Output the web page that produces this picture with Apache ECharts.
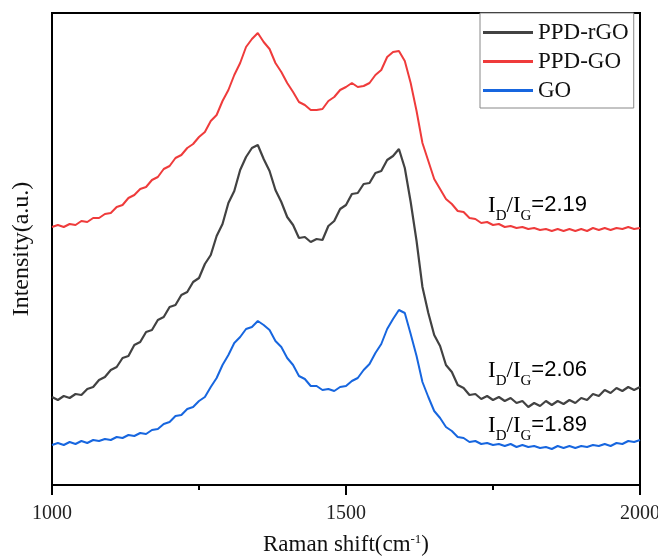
<!DOCTYPE html>
<html>
<head>
<meta charset="utf-8">
<script src="https://cdn.jsdelivr.net/npm/echarts@6/dist/echarts.min.js"></script>
<style>
html,body{margin:0;padding:0;background:#fff;}
#chart{width:658px;height:558px;}
</style>
</head>
<body>
<div id="chart"></div>
<script>
// Raman shift (cm-1), 10 cm-1 steps
var wavenumbers = [];
for (var w = 1000; w <= 2000; w += 10) wavenumbers.push(w);

var seriesNames = ['PPD-rGO', 'PPD-GO', 'GO'];
var xTicks = [1000, 1500, 2000];
var ratioLabels = ['2.19', '2.06', '1.89'];

var ppdGO = [260,262,260,263,262,266,265,269,269,273,
  274,280,282,289,292,298,300,307,310,318,
  321,329,332,339,343,350,355,366,372,386,
  397,412,424,440,448,454,445,438,424,415,
  404,395,385,382,377,377,378,386,390,397,
  400,404,400,401,404,412,417,430,435,436,
  426,404,376,344,326,308,298,288,283,276,
  275,269,268,264,265,262,263,260,261,259,
  260,258,259,257,258,256,258,256,258,256,
  258,256,259,257,259,257,259,258,260,258,259];

var ppdRGO = [90,87,91,89,93,92,98,100,107,110,
  117,120,129,131,142,145,155,157,167,170,
  180,182,192,195,205,209,223,232,251,263,
  284,296,317,330,339,342,328,316,297,285,
  270,262,249,250,245,248,247,261,266,278,
  282,293,294,303,304,314,316,327,331,338,
  319,285,246,200,174,152,141,122,115,102,
  99,92,93,88,91,87,90,86,89,84,
  86,80,84,81,86,82,86,83,87,84,
  89,87,93,91,97,94,99,96,100,97,100];

var go = [42,44,42,45,43,46,44,47,46,48,
  47,50,49,52,51,54,53,57,58,63,
  65,71,72,78,80,86,90,100,109,122,
  132,144,150,158,160,166,162,157,146,140,
  129,122,111,108,101,101,97,98,96,100,
  101,106,109,117,123,134,143,158,168,177,
  174,153,131,105,90,76,69,60,56,50,
  49,45,46,43,44,42,43,41,43,40,
  42,40,41,39,40,38,41,39,41,39,
  41,40,42,41,43,41,44,43,46,45,47];

function pairs(arr) {
  return wavenumbers.map(function (w, i) { return [w, arr[i]]; });
}

var chart = echarts.init(document.getElementById('chart'), null, {renderer: 'canvas'});
var serif = 'Liberation Serif';
var sans = 'Liberation Sans';

function ratioText(v) {
  return '{a|I}{b|D}{a|/I}{b|G}{c|=' + v + '}';
}
var rich = {
  a: {fontFamily: serif, fontSize: 23, color: '#111', lineHeight: 24, verticalAlign: 'top'},
  b: {fontFamily: serif, fontSize: 15, color: '#111', lineHeight: 30, verticalAlign: 'bottom'},
  c: {fontFamily: sans, fontSize: 22, color: '#111', lineHeight: 24, verticalAlign: 'top'}
};

var option = {
  backgroundColor: '#fff',
  animation: false,
  grid: {left: 52, right: 18, top: 13, bottom: 73, containLabel: false, outerBoundsMode: 'none',
    show: true, borderColor: '#000', borderWidth: 2, backgroundColor: 'transparent'},
  legend: {
    data: seriesNames,
    orient: 'vertical',
    left: 480, top: 13,
    padding: [8, 5, 6, 3],
    itemGap: 6,
    itemWidth: 50, itemHeight: 3,
    icon: 'rect',
    borderColor: '#888', borderWidth: 1,
    backgroundColor: '#fff',
    textStyle: {fontFamily: serif, fontSize: 23, color: '#111', padding: [0, 0, 0, 0]}
  },
  xAxis: {
    type: 'value', min: 1000, max: 2000, interval: 500,
    name: 'Raman shift(cm{s|-1})', nameLocation: 'middle', nameGap: 48,
    nameTextStyle: {fontFamily: serif, fontSize: 23, color: '#111',
      rich: {s: {fontFamily: serif, fontSize: 13, color: '#111', verticalAlign: 'top', lineHeight: 13, padding: [0, 0, 10, 0]}}},
    axisLine: {show: true, lineStyle: {color: '#000', width: 2}},
    axisTick: {show: true, length: 10, lineStyle: {color: '#000', width: 2}},
    minorTick: {show: true, splitNumber: 2, length: 5, lineStyle: {color: '#000', width: 2}},
    axisLabel: {fontFamily: serif, fontSize: 20, color: '#222', margin: 19,
      formatter: function (v) { return xTicks.indexOf(v) >= 0 ? String(v) : ''; }},
    splitLine: {show: false}
  },
  yAxis: {
    type: 'value', min: 2, max: 474,
    name: 'Intensity(a.u.)', nameLocation: 'middle', nameGap: 18,
    nameTextStyle: {fontFamily: serif, fontSize: 24, color: '#111'},
    axisLine: {show: true, lineStyle: {color: '#000', width: 2}},
    axisTick: {show: false}, axisLabel: {show: false}, splitLine: {show: false}
  },
  series: [
    {name: seriesNames[0], type: 'line', data: pairs(ppdRGO), showSymbol: false,
      lineStyle: {color: '#424242', width: 2.2}, itemStyle: {color: '#424242'}, z: 3},
    {name: seriesNames[1], type: 'line', data: pairs(ppdGO), showSymbol: false,
      lineStyle: {color: '#ef3b3b', width: 2}, itemStyle: {color: '#ef3b3b'}, z: 2},
    {name: seriesNames[2], type: 'line', data: pairs(go), showSymbol: false,
      lineStyle: {color: '#1766df', width: 2}, itemStyle: {color: '#1766df'}, z: 2}
  ],
  graphic: [
    {type: 'text', left: 488, top: 194, z: 10, style: {text: ratioText(ratioLabels[0]), rich: rich}},
    {type: 'text', left: 488, top: 359, z: 10, style: {text: ratioText(ratioLabels[1]), rich: rich}},
    {type: 'text', left: 488, top: 414, z: 10, style: {text: ratioText(ratioLabels[2]), rich: rich}}
  ]
};
chart.setOption(option);
</script>
</body>
</html>
